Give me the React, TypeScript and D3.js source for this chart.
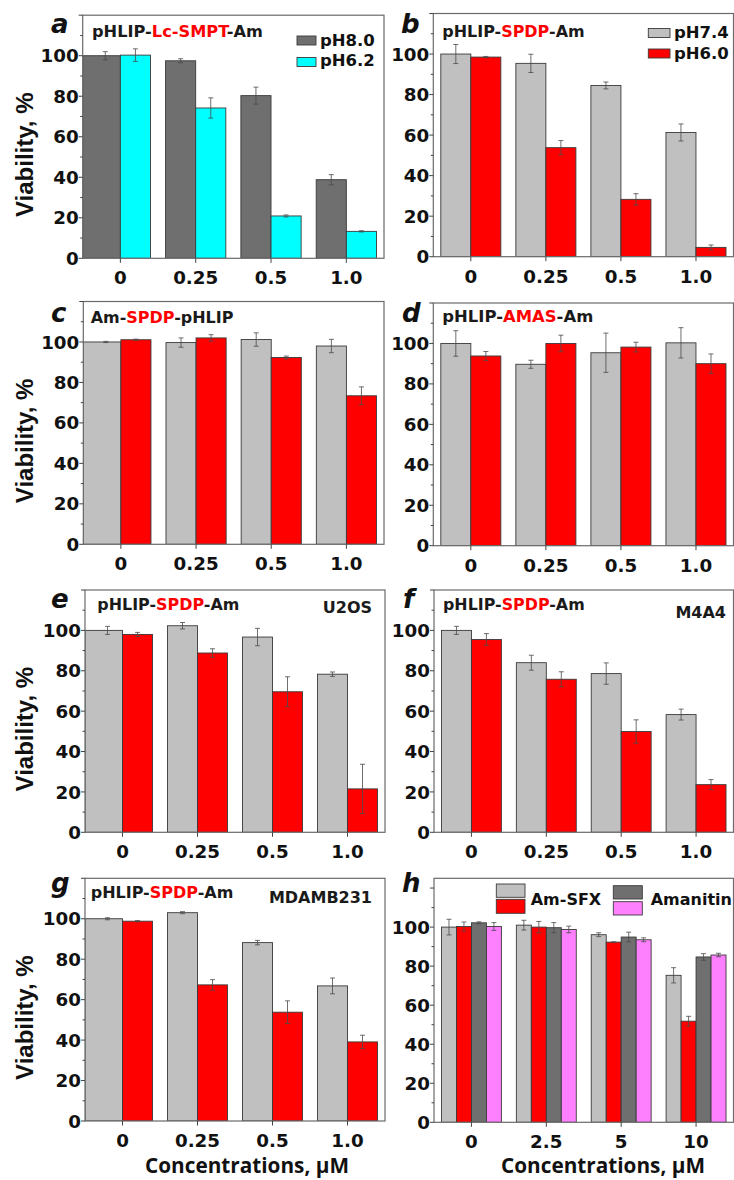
import React from 'react';
import * as d3 from 'd3';

// categories / tick labels
const concLabels = ['0', '0.25', '0.5', '1.0'];
const concLabelsH = ['0', '2.5', '5', '10'];
const yTickLabels = [0, 20, 40, 60, 80, 100];

// a: pHLIP-Lc-SMPT-Am
const aPH80 = [100, 97.5, 80.3, 38.8];
const aPH80Err = [2, 1, 4.2, 2.5];
const aPH62 = [100.3, 74.2, 20.9, 13.3];
const aPH62Err = [3.1, 5, 0.5, 0.3];
// b: pHLIP-SPDP-Am
const bPH74 = [100, 95.4, 84.5, 61.3];
const bPH74Err = [4.7, 4.5, 1.7, 4.2];
const bPH60 = [98.5, 53.8, 28.3, 4.6];
const bPH60Err = [0.3, 3.5, 2.8, 1.2];
// c: Am-SPDP-pHLIP
const cPH74 = [100, 99.7, 101.2, 98];
const cPH74Err = [0.3, 2.3, 3.3, 3.3];
const cPH60 = [101.1, 102, 92.3, 73.4];
const cPH60Err = [0.3, 1.6, 0.7, 4.4];
// d: pHLIP-AMAS-Am
const dPH74 = [100, 89.7, 95.4, 100.3];
const dPH74Err = [6.3, 2, 9.7, 7.5];
const dPH60 = [93.8, 100, 98.2, 90];
const dPH60Err = [2.2, 4.1, 2.4, 4.8];
// e: U2OS
const ePH74 = [100, 102.3, 96.7, 78.3];
const ePH74Err = [2, 1.6, 4.3, 1.1];
const ePH60 = [98, 88.8, 69.6, 21.5];
const ePH60Err = [1, 2.1, 7.4, 12.2];
// f: M4A4
const fPH74 = [100, 84, 78.6, 58.3];
const fPH74Err = [2, 3.7, 5.3, 2.7];
const fPH60 = [95.5, 75.8, 49.9, 23.6];
const fPH60Err = [2.9, 3.7, 5.8, 2.5];
// g: MDAMB231
const gPH74 = [100, 103, 88.2, 66.8];
const gPH74Err = [0.5, 0.5, 1.1, 3.9];
const gPH60 = [98.8, 67.3, 53.8, 39.1];
const gPH60Err = [0.3, 2.6, 5.6, 3.3];
// h: Am-SFX vs Amanitin
const hSfx74 = [100, 101, 96.1, 75.3];
const hSfx74Err = [4, 2.5, 1, 3.9];
const hSfx60 = [100.3, 100, 92.3, 51.8];
const hSfx60Err = [2.3, 2.9, 0.2, 2.5];
const hAma74 = [102.2, 99.7, 94.9, 84.7];
const hAma74Err = [0.5, 2.6, 2.5, 1.7];
const hAma60 = [100.3, 98.8, 93.5, 85.7];
const hAma60Err = [2, 1.7, 1, 0.9];

const DARK = '#6f6f6f';
const LIGHT = '#c0c0c0';
const RED = '#ff0000';
const CYAN = '#00ffff';
const PINK = '#ff80ff';

const TICK_FONT = 'DejaVu Sans, sans-serif';

type Series = { values: number[]; errs: number[]; color: string };
type PanelCfg = {
  id: string;
  letter: string;
  left: number; right: number; top: number; y0: number; yMax: number;
  cats: string[];
  series: Series[];
  title?: { parts: [string, string, string]; x: number; y: number; len: number };
  cell?: { text: string; x: number; y: number };
  letterPos: [number, number];
  yTitle?: boolean;
  xTitle?: number;
  firstToFrame?: boolean;
};

const panels: PanelCfg[] = [
  {
    id: 'a', letter: 'a', left: 82.7, right: 384, top: 15.2, y0: 258.3, yMax: 120, cats: concLabels,
    series: [{ values: aPH80, errs: aPH80Err, color: DARK }, { values: aPH62, errs: aPH62Err, color: CYAN }],
    title: { parts: ['pHLIP-', 'Lc-SMPT', '-Am'], x: 92, y: 37, len: 171 },
    letterPos: [51, 33], yTitle: true, firstToFrame: true,
  },
  {
    id: 'b', letter: 'b', left: 433.3, right: 733.5, top: 13.5, y0: 256.7, yMax: 120, cats: concLabels,
    series: [{ values: bPH74, errs: bPH74Err, color: LIGHT }, { values: bPH60, errs: bPH60Err, color: RED }],
    title: { parts: ['pHLIP-', 'SPDP', '-Am'], x: 442.3, y: 37.3, len: 142.3 },
    letterPos: [401, 33],
  },
  {
    id: 'c', letter: 'c', left: 83.3, right: 384, top: 301.5, y0: 544.3, yMax: 120, cats: concLabels,
    series: [{ values: cPH74, errs: cPH74Err, color: LIGHT }, { values: cPH60, errs: cPH60Err, color: RED }],
    title: { parts: ['Am-', 'SPDP', '-pHLIP'], x: 90.7, y: 323.3, len: 142.7 },
    letterPos: [51, 321.7], yTitle: true, firstToFrame: true,
  },
  {
    id: 'd', letter: 'd', left: 433.3, right: 733.5, top: 303, y0: 545.7, yMax: 120, cats: concLabels,
    series: [{ values: dPH74, errs: dPH74Err, color: LIGHT }, { values: dPH60, errs: dPH60Err, color: RED }],
    title: { parts: ['pHLIP-', 'AMAS', '-Am'], x: 442.3, y: 321.7, len: 151 },
    letterPos: [402, 321.7],
  },
  {
    id: 'e', letter: 'e', left: 85, right: 385, top: 590, y0: 832.3, yMax: 120, cats: concLabels,
    series: [{ values: ePH74, errs: ePH74Err, color: LIGHT }, { values: ePH60, errs: ePH60Err, color: RED }],
    title: { parts: ['pHLIP-', 'SPDP', '-Am'], x: 97.3, y: 610, len: 142 },
    cell: { text: 'U2OS', x: 372, y: 613 },
    letterPos: [51, 608.3], yTitle: true, firstToFrame: true,
  },
  {
    id: 'f', letter: 'f', left: 434, right: 733.5, top: 590, y0: 832.3, yMax: 120, cats: concLabels,
    series: [{ values: fPH74, errs: fPH74Err, color: LIGHT }, { values: fPH60, errs: fPH60Err, color: RED }],
    title: { parts: ['pHLIP-', 'SPDP', '-Am'], x: 443, y: 610, len: 141.7 },
    cell: { text: 'M4A4', x: 726, y: 617.7 },
    letterPos: [403, 608],
  },
  {
    id: 'g', letter: 'g', left: 85, right: 385, top: 878.3, y0: 1121, yMax: 120, cats: concLabels,
    series: [{ values: gPH74, errs: gPH74Err, color: LIGHT }, { values: gPH60, errs: gPH60Err, color: RED }],
    title: { parts: ['pHLIP-', 'SPDP', '-Am'], x: 90.7, y: 898.3, len: 142.7 },
    cell: { text: 'MDAMB231', x: 372, y: 903.3 },
    letterPos: [51, 892], yTitle: true, xTitle: 247, firstToFrame: true,
  },
  {
    id: 'h', letter: 'h', left: 434, right: 733.5, top: 878.3, y0: 1122.3, yMax: 125, cats: concLabelsH,
    series: [
      { values: hSfx74, errs: hSfx74Err, color: LIGHT },
      { values: hSfx60, errs: hSfx60Err, color: RED },
      { values: hAma74, errs: hAma74Err, color: DARK },
      { values: hAma60, errs: hAma60Err, color: PINK },
    ],
    letterPos: [402, 892], xTitle: 603,
  },
];

// legends (swatch positions in page pixels)
const legends = [
  { items: [{ c: DARK, label: 'pH8.0' }, { c: CYAN, label: 'pH6.2' }], x: 297, y: [36, 57.5], w: 19, h: 9, tx: 320, ty: [45.5, 65.5] },
  { items: [{ c: LIGHT, label: 'pH7.4' }, { c: RED, label: 'pH6.0' }], x: 648.3, y: [28.5, 49], w: 21.7, h: 9, tx: 674, ty: [37.5, 59] },
];

const Panel = ({ cfg }: { cfg: PanelCfg }) => {
  const x = d3.scalePoint<string>().domain(cfg.cats).range([cfg.left, cfg.right]).padding(0.5);
  const step = x.step();
  const y = d3.scaleLinear().domain([0, cfg.yMax]).range([cfg.y0, cfg.top]);
  const n = cfg.series.length;
  const bw = (step * 0.8) / n;
  const ticks = d3.range(0, cfg.yMax + 0.1, 10);
  const clipId = `clip-${cfg.id}`;

  return (
    <g>
      <defs>
        <clipPath id={clipId}>
          <rect x={cfg.left} y={cfg.top} width={cfg.right - cfg.left} height={cfg.y0 - cfg.top} />
        </clipPath>
      </defs>
      <g clipPath={`url(#${clipId})`}>
        {cfg.series.map((s, j) =>
          s.values.map((v, i) => {
            const cx = x(cfg.cats[i])!;
            let x0 = cx - (n * bw) / 2 + j * bw;
            let w = bw;
            if (cfg.firstToFrame && i === 0 && j === 0) {
              w = x0 + bw - cfg.left;
              x0 = cfg.left;
            }
            return (
              <rect key={`b${j}-${i}`} x={x0} y={y(v)} width={w} height={cfg.y0 - y(v)}
                fill={s.color} stroke="#3a3a3a" strokeWidth={0.9} />
            );
          })
        )}
        {cfg.series.map((s, j) =>
          s.values.map((v, i) => {
            const cx = x(cfg.cats[i])! - (n * bw) / 2 + j * bw + bw / 2;
            const e = s.errs[i];
            const yt = y(v + e);
            const yb = y(v - e);
            return (
              <g key={`e${j}-${i}`} stroke="#4a4a4a" strokeWidth={0.8}>
                <line x1={cx} x2={cx} y1={yt} y2={yb} />
                <line x1={cx - 2.5} x2={cx + 2.5} y1={yt} y2={yt} />
                <line x1={cx - 2.5} x2={cx + 2.5} y1={yb} y2={yb} />
              </g>
            );
          })
        )}
      </g>
      <rect x={cfg.left} y={cfg.top} width={cfg.right - cfg.left} height={cfg.y0 - cfg.top}
        fill="none" stroke="#6a6a6a" strokeWidth={1.2} />
      {ticks.map((t) => (
        <line key={`yt${t}`} x1={cfg.left} x2={cfg.left - (t % 20 === 0 ? 4 : 2.5)} y1={y(t)} y2={y(t)}
          stroke="#444" strokeWidth={1} />
      ))}
      {yTickLabels.map((t) => (
        <text key={`yl${t}`} x={cfg.left - 4} y={y(t)} dy="0.36em" textAnchor="end"
          fontFamily={TICK_FONT} fontWeight="bold" fontSize={18.3} fill="#111">{t}</text>
      ))}
      {cfg.cats.map((c) => (
        <g key={`xt${c}`}>
          <line x1={x(c)} x2={x(c)} y1={cfg.y0} y2={cfg.y0 + 4.5} stroke="#444" strokeWidth={1} />
          <text x={x(c)} y={cfg.y0 + 26} textAnchor="middle" fontFamily={TICK_FONT} fontWeight="bold"
            fontSize={18.3} fill="#111">{c}</text>
        </g>
      ))}
      <text x={cfg.letterPos[0]} y={cfg.letterPos[1]} fontFamily={TICK_FONT} fontWeight="bold"
        fontStyle="italic" fontSize={26} fill="#111">{cfg.letter}</text>
      {cfg.title && (
        <text x={cfg.title.x} y={cfg.title.y} fontFamily={TICK_FONT} fontWeight="bold" fontSize={15}
          textLength={cfg.title.len} lengthAdjust="spacingAndGlyphs" fill="#1a1a1a">
          <tspan>{cfg.title.parts[0]}</tspan>
          <tspan fill={RED}>{cfg.title.parts[1]}</tspan>
          <tspan>{cfg.title.parts[2]}</tspan>
        </text>
      )}
      {cfg.cell && (
        <text x={cfg.cell.x} y={cfg.cell.y} textAnchor="end" fontFamily={TICK_FONT} fontWeight="bold"
          fontSize={16} fill="#1a1a1a">{cfg.cell.text}</text>
      )}
      {cfg.yTitle && (
        <text transform={`translate(33,${(cfg.top + cfg.y0) / 2 + 18}) rotate(-90)`} textAnchor="middle"
          fontFamily="Liberation Sans, Arial, sans-serif" fontWeight="bold" fontSize={24} fill="#111">
          Viability, %
        </text>
      )}
      {cfg.xTitle !== undefined && (
        <text x={cfg.xTitle} y={1173} textAnchor="middle" fontFamily="Open Sans, sans-serif" fontWeight={700}
          fontSize={21.5} textLength={204} lengthAdjust="spacingAndGlyphs" fill="#111">
          Concentrations, μM
        </text>
      )}
    </g>
  );
};

const App = () => {
  return (
    <svg width={734} height={1180} style={{ position: 'absolute', left: 0, top: 0, background: '#fff' }}>
      <rect x={0} y={0} width={734} height={1180} fill="#fff" />
      {panels.map((p) => <Panel key={p.id} cfg={p} />)}
      {legends.map((lg, k) => (
        <g key={`lg${k}`}>
          {lg.items.map((it, i) => (
            <g key={it.label}>
              <rect x={lg.x} y={lg.y[i]} width={lg.w} height={lg.h} fill={it.c} stroke="#3a3a3a" strokeWidth={0.9} />
              <text x={lg.tx} y={lg.ty[i]} fontFamily={TICK_FONT} fontWeight="bold" fontSize={16.5} fill="#111">
                {it.label}
              </text>
            </g>
          ))}
        </g>
      ))}
      {/* panel h legend: two stacked swatches per compound */}
      <g>
        <rect x={496.3} y={884} width={28.7} height={13.3} fill={LIGHT} stroke="#3a3a3a" strokeWidth={0.9} />
        <rect x={496.3} y={899.3} width={28.7} height={14} fill={RED} stroke="#3a3a3a" strokeWidth={0.9} />
        <text x={530.7} y={905} fontFamily={TICK_FONT} fontWeight="bold" fontSize={16} fill="#111">Am-SFX</text>
        <rect x={613.3} y={885.7} width={29} height={13.3} fill={DARK} stroke="#3a3a3a" strokeWidth={0.9} />
        <rect x={613.3} y={901.7} width={29} height={13.3} fill={PINK} stroke="#3a3a3a" strokeWidth={0.9} />
        <text x={650.7} y={905} fontFamily={TICK_FONT} fontWeight="bold" fontSize={16} fill="#111">Amanitin</text>
      </g>
    </svg>
  );
};

export default App;
